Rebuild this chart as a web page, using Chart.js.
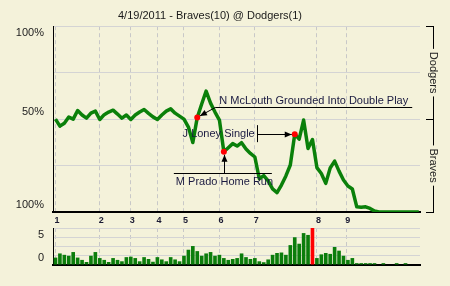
<!DOCTYPE html>
<html>
<head>
<meta charset="utf-8">
<script src="https://cdn.jsdelivr.net/npm/chart.js@4.4.1/dist/chart.umd.min.js"></script>
<style>
  html, body { margin: 0; padding: 0; background: #f4f2da; }
  #wrap { position: relative; width: 450px; height: 286px; overflow: hidden; }
  #wp { position: absolute; left: 0; top: 0; }
  #lev { position: absolute; left: 0; top: 226px; }
</style>
</head>
<body>
<div id="wrap">
  <canvas id="wp" width="450" height="226"></canvas>
  <canvas id="lev" width="450" height="60"></canvas>
</div>
<script>
// Dodgers win probability (%) after each play
const winProb = [
  50.0, 46.2, 47.8, 51.1, 50.0, 54.6, 52.2, 50.5, 53.2, 54.3,
  49.8, 52.4, 53.8, 54.8, 52.7, 50.5, 52.2, 49.8, 52.2, 53.8,
  55.2, 53.1, 51.2, 49.8, 52.2, 54.3, 55.5, 53.2, 51.6, 50.0,
  45.7, 37.4, 50.9, 58.1, 65.1, 58.6, 53.8, 49.5, 32.4, 34.6,
  36.8, 35.5, 37.3, 33.9, 31.5, 29.6, 17.9, 19.6, 16.7, 12.4,
  10.4, 14.5, 19.4, 25.3, 41.9, 39.2, 49.5, 34.2, 39.0, 23.9,
  20.7, 15.4, 23.7, 27.4, 22.0, 17.2, 14.0, 12.4, 2.8, 2.5,
  2.8, 1.9, 0.5, 0, 0, 0, 0, 0, 0, 0,
  0, 0, 0
];

// leverage of each play (bottom panel)
const leverage = [
  1.6, 2.5, 2.2, 2.0, 2.8, 1.6, 1.1, 0.65, 2.0, 2.8,
  1.5, 1.1, 0.65, 1.5, 1.1, 0.8, 1.7, 1.8, 1.5, 0.8,
  1.7, 1.3, 0.7, 1.7, 1.2, 0.8, 1.7, 1.2, 0.8, 2.0,
  3.3, 4.1, 3.0, 2.0, 2.5, 2.8, 2.0, 2.2, 1.5, 1.1,
  1.3, 1.5, 2.5, 1.7, 1.3, 1.5, 0.8, 0.6, 1.2, 2.2,
  2.6, 2.7, 2.2, 4.3, 6.0, 4.6, 6.9, 6.5, 8.0, 1.5,
  2.3, 2.6, 2.4, 3.9, 3.1, 2.0, 1.1, 1.5, 0.4, 0.4,
  0.4, 0.4, 0.4, 0, 0.4, 0, 0, 0.4, 0, 0.4,
  0, 0, 0
];

// play where each inning starts
const inningStarts = [0, 10, 17, 23, 29, 37, 45, 59, 65.6];
const inningLabels = ['1', '2', '3', '4', '5', '6', '7', '8', '9'];

const yTicks = [100, 50, 0];
const yTickLabels = ['100%', '50%', '100%'];
const levTicks = [0, 5];

const keyPlays = [32, 38, 54];
const keyLabels = ['N McLouth Grounded Into Double Play', 'M Prado Home Run', 'J Loney Single'];

const titleText = '4/19/2011 - Braves(10) @ Dodgers(1)';
const teamTop = 'Dodgers';
const teamBottom = 'Braves';

const FONT = '"Liberation Sans", Arial, sans-serif';
const BG = '#f4f2da';
const GREEN = '#0a800a';
const xMin = -0.56, xMax = 82.27;

Chart.defaults.font.family = FONT;

const innings = s => { s.ticks = inningStarts.map(v => ({ value: v })); };
const noPad = s => { s.paddingTop = 0; s.paddingBottom = 0; s.paddingLeft = 0; s.paddingRight = 0; };

function arrowTo(ctx, x1, y1, x2, y2, gap) {
  const a = Math.atan2(y2 - y1, x2 - x1);
  const ex = x2 - gap * Math.cos(a), ey = y2 - gap * Math.sin(a);
  ctx.beginPath();
  ctx.moveTo(x1, y1);
  ctx.lineTo(ex, ey);
  ctx.stroke();
  const L = 7, W = 3;
  ctx.beginPath();
  ctx.moveTo(ex, ey);
  ctx.lineTo(ex - L * Math.cos(a) + W * Math.sin(a), ey - L * Math.sin(a) - W * Math.cos(a));
  ctx.lineTo(ex - L * Math.cos(a) - W * Math.sin(a), ey - L * Math.sin(a) + W * Math.cos(a));
  ctx.closePath();
  ctx.fill();
}

// y labels, team brackets on the right, and the play callouts
const decorations = {
  id: 'decorations',
  afterDraw(chart) {
    const { ctx, chartArea: area, scales: { x, y } } = chart;
    ctx.save();

    // y labels
    ctx.font = '11px ' + FONT;
    ctx.fillStyle = '#222';
    ctx.textAlign = 'right';
    ctx.textBaseline = 'middle';
    yTicks.forEach((v, k) => {
      const py = Math.max(y.getPixelForValue(v) - 7, area.top + 7);
      ctx.fillText(yTickLabels[k], area.left - 9, py);
    });

    // team brackets
    const bx = area.right + 13;
    const mid = y.getPixelForValue(50);
    ctx.strokeStyle = '#000';
    ctx.lineWidth = 1;
    ctx.beginPath();
    ctx.moveTo(bx + 0.5, area.top);
    ctx.lineTo(bx + 0.5, area.bottom);
    [area.top, mid, area.bottom].forEach(py => {
      ctx.moveTo(area.right + 6, Math.round(py) + 0.5);
      ctx.lineTo(bx + 1, Math.round(py) + 0.5);
    });
    ctx.stroke();
    [[teamTop, (area.top + mid) / 2], [teamBottom, (mid + area.bottom) / 2]].forEach(([t, cy]) => {
      ctx.save();
      ctx.translate(bx, cy);
      ctx.rotate(Math.PI / 2);
      const w = ctx.measureText(t).width;
      ctx.fillStyle = BG;
      ctx.fillRect(-w / 2 - 3, -6, w + 6, 12);
      ctx.fillStyle = '#222';
      ctx.textAlign = 'center';
      ctx.fillText(t, 0, 0);
      ctx.restore();
    });

    // callouts
    ctx.strokeStyle = '#000';
    ctx.textBaseline = 'middle';
    keyPlays.forEach((i, k) => {
      const px = x.getPixelForValue(i);
      const py = y.getPixelForValue(winProb[i]);
      const label = keyLabels[k];
      const w = ctx.measureText(label).width;
      ctx.fillStyle = '#1a1a40';
      if (k === 0) {
        const ly = Math.round(py - 10) + 0.5;
        ctx.textAlign = 'left';
        ctx.fillText(label, px + 22, ly - 7);
        ctx.beginPath();
        ctx.moveTo(px + 18, ly);
        ctx.lineTo(px + 26 + w, ly);
        ctx.stroke();
        ctx.fillStyle = '#000';
        arrowTo(ctx, px + 18, ly, px, py, 3);
      } else if (k === 1) {
        const ly = Math.round(py + 21.5) + 0.5;
        ctx.textAlign = 'left';
        ctx.fillText(label, px - 48, py + 30.5);
        ctx.beginPath();
        ctx.moveTo(px - 50, ly);
        ctx.lineTo(px + 48, ly);
        ctx.stroke();
        ctx.fillStyle = '#000';
        arrowTo(ctx, Math.round(px) + 0.5, ly, Math.round(px) + 0.5, py, 3);
      } else {
        const bxl = Math.round(px - 38) + 0.5;
        ctx.textAlign = 'right';
        ctx.fillText(label, px - 40, py);
        ctx.beginPath();
        ctx.moveTo(bxl, py - 9);
        ctx.lineTo(bxl, py + 8);
        ctx.stroke();
        ctx.fillStyle = '#000';
        arrowTo(ctx, bxl, Math.round(py) + 0.5, px, Math.round(py) + 0.5, 3);
      }
    });
    ctx.restore();
  }
};

new Chart(document.getElementById('wp'), {
  type: 'line',
  data: {
    datasets: [{
      data: winProb.map((v, i) => ({ x: i, y: v })),
      borderColor: GREEN,
      borderWidth: 3.5,
      tension: 0,
      borderJoinStyle: 'round',
      pointRadius: ctx => keyPlays.includes(ctx.dataIndex) ? 3 : 0,
      pointBackgroundColor: '#ff0000',
      pointBorderWidth: 0
    }]
  },
  options: {
    responsive: false,
    animation: false,
    events: [],
    layout: { padding: { top: 0, right: 30, bottom: 0, left: 0 } },
    plugins: {
      legend: { display: false },
      tooltip: { enabled: false },
      title: {
        display: true,
        text: titleText,
        color: '#1a1a1a',
        font: { size: 11, weight: 'normal' },
        padding: { top: 9, bottom: 4 }
      }
    },
    scales: {
      x: {
        type: 'linear',
        min: xMin,
        max: xMax,
        afterBuildTicks: innings,
        afterFit: s => { s.height = 14; noPad(s); },
        ticks: {
          callback: (v, i) => inningLabels[i],
          autoSkip: false,
          maxRotation: 0,
          padding: 3,
          labelOffset: 1.5,
          color: '#1a1a33',
          font: { size: 9, weight: 'bold' }
        },
        grid: { color: '#c8c8c8', drawTicks: false },
        border: { color: '#000', width: 2, dash: [4, 3] }
      },
      y: {
        min: 0,
        max: 100,
        afterBuildTicks: s => { s.ticks = [0, 25, 50, 75, 100].map(v => ({ value: v })); },
        afterFit: s => { s.width = 53; noPad(s); },
        ticks: { display: false },
        grid: { color: '#d4d4d4', drawTicks: false },
        border: { color: '#000', width: 1 }
      }
    }
  },
  plugins: [decorations]
});

const peak = leverage.indexOf(Math.max(...leverage));

new Chart(document.getElementById('lev'), {
  type: 'bar',
  data: {
    datasets: [{
      data: leverage.map((v, i) => ({ x: i, y: v })),
      backgroundColor: ctx => ctx.dataIndex === peak ? '#ff0000' : '#0b7d0b',
      borderWidth: 0,
      categoryPercentage: 1,
      barPercentage: 0.82
    }]
  },
  options: {
    responsive: false,
    animation: false,
    events: [],
    layout: { padding: { top: 2, right: 30, bottom: 21, left: 0 } },
    plugins: { legend: { display: false }, tooltip: { enabled: false } },
    scales: {
      x: {
        type: 'linear',
        min: xMin,
        max: xMax,
        offset: false,
        afterBuildTicks: innings,
        afterFit: s => { s.height = 0; noPad(s); },
        ticks: { display: false },
        grid: { color: '#c8c8c8', drawTicks: false, offset: false },
        border: { color: '#000', width: 2, dash: [4, 3] }
      },
      y: {
        min: 0,
        max: 8,
        afterBuildTicks: s => { s.ticks = [0, 2, 4, 5, 6, 8].map(v => ({ value: v })); },
        afterFit: s => { s.width = 53; noPad(s); },
        ticks: {
          callback: v => levTicks.includes(v) ? String(v) : '',
          autoSkip: false,
          labelOffset: -7,
          padding: 9,
          color: '#222',
          font: { size: 11 }
        },
        grid: {
          drawTicks: false,
          color: ctx => (ctx.tick && ctx.tick.value === 5) ? 'rgba(0,0,0,0)' : '#d4d4d4'
        },
        border: { color: '#000', width: 1 }
      }
    }
  }
});
</script>
</body>
</html>
